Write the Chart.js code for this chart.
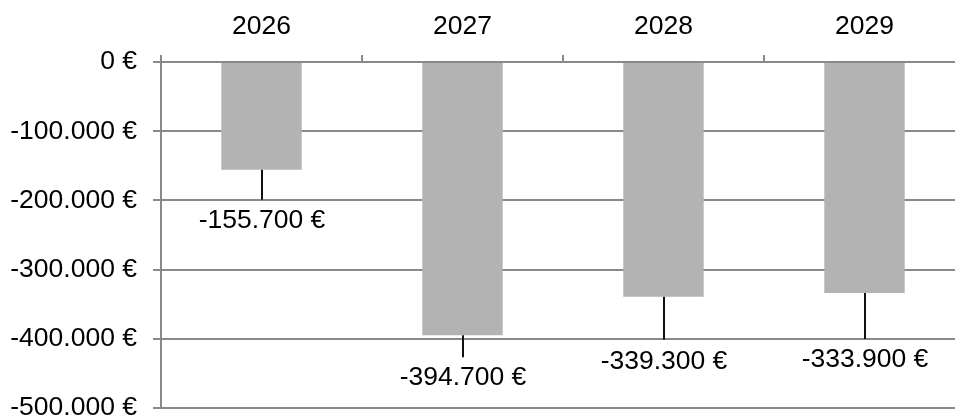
<!DOCTYPE html>
<html>
<head>
<meta charset="utf-8">
<script src="https://cdn.jsdelivr.net/npm/chart.js@4"></script>
<style>
  html, body { margin: 0; padding: 0; background: #fff; overflow: hidden; }
  #wrap { width: 955px; height: 419px; overflow: hidden; position: relative; }
  canvas { position: absolute; left: 0; top: 0; }
</style>
</head>
<body>
<div id="wrap">
  <canvas id="chart" width="966" height="445"></canvas>
</div>
<script>
const years = ['2026', '2027', '2028', '2029'];
const amounts = [-155700, -394700, -339300, -333900];
const yTicks = [0, -100000, -200000, -300000, -400000, -500000];

// leader line length / label gap below the bar end, in px
const leaderLen = [30, 22, 43, 46];
const labelGap = [21, 21, 22, 21];

const FONT = "'Liberation Sans', Arial, sans-serif";
const FSIZE = 26.5;
const GRID = '#898989';

function euro(v) {
  const s = Math.abs(v).toString().replace(/\B(?=(\d{3})+(?!\d))/g, '.');
  return (v < 0 ? '-' : '') + s + ' €';
}

const barLabels = {
  id: 'barLabels',
  afterDatasetsDraw(chart) {
    const ctx = chart.ctx;
    const meta = chart.getDatasetMeta(0);
    ctx.save();
    ctx.strokeStyle = '#111';
    ctx.lineWidth = 2;
    ctx.fillStyle = '#000';
    ctx.font = FSIZE + 'px ' + FONT;
    ctx.textAlign = 'center';
    ctx.textBaseline = 'middle';
    meta.data.forEach((bar, i) => {
      const x = Math.round(bar.x);
      const y0 = bar.y;
      const y1 = y0 + leaderLen[i];
      ctx.beginPath();
      ctx.moveTo(x, y0);
      ctx.lineTo(x, y1);
      ctx.stroke();
      ctx.fillText(euro(amounts[i]), x, y1 + labelGap[i]);
    });
    ctx.restore();
  }
};

new Chart(document.getElementById('chart'), {
  type: 'bar',
  data: {
    labels: years,
    datasets: [{
      data: amounts,
      backgroundColor: '#b3b3b3',
      borderWidth: 0,
      barPercentage: 0.4,
      categoryPercentage: 1
    }]
  },
  options: {
    responsive: false,
    animation: false,
    devicePixelRatio: 1,
    layout: { padding: { left: 0, top: 0, right: 1, bottom: 37 } },
    plugins: { legend: { display: false }, tooltip: { enabled: false } },
    scales: {
      x: {
        position: 'top',
        grid: { display: true, drawOnChartArea: false, drawTicks: true, tickLength: 7, color: GRID, lineWidth: 2, offset: true },
        border: { display: true, color: GRID, width: 2 },
        ticks: { color: '#000', font: { family: FONT, size: FSIZE }, padding: 12, maxRotation: 0 },
        afterFit(scale) { scale.height = 62; }
      },
      y: {
        min: -500000,
        max: 0,
        afterBuildTicks(scale) { scale.ticks = yTicks.map(v => ({ value: v })); },
        grid: { color: GRID, lineWidth: 2, tickLength: 8 },
        border: { display: true, color: GRID, width: 2 },
        ticks: { color: '#000', font: { family: FONT, size: FSIZE }, padding: 16, callback: v => euro(v) },
        afterFit(scale) { scale.width = 161; }
      }
    }
  },
  plugins: [barLabels]
});
</script>
</body>
</html>
